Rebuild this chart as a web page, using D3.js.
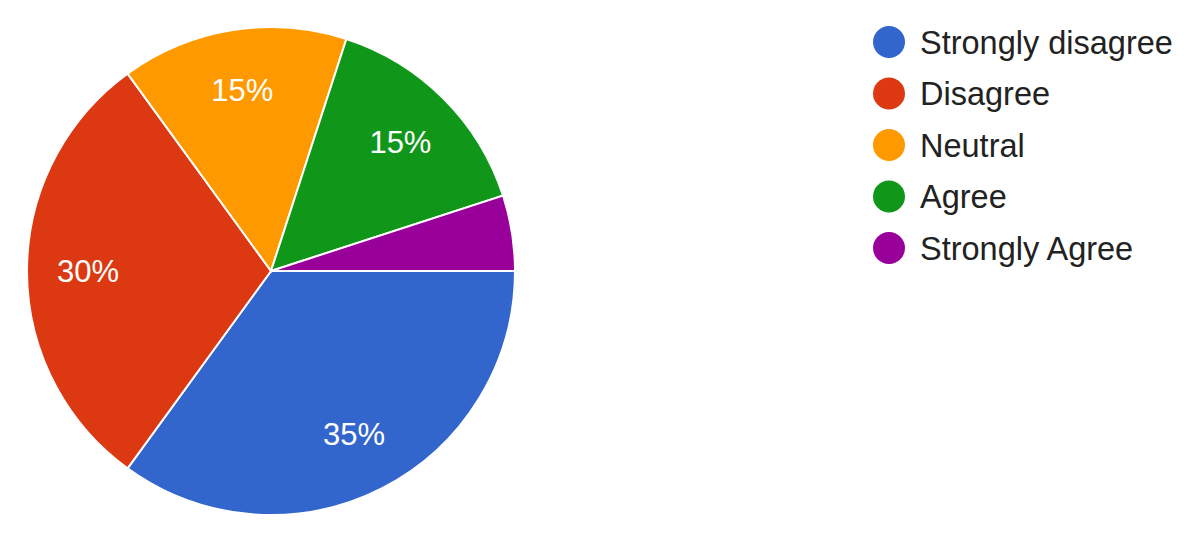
<!DOCTYPE html>
<html><head><meta charset="utf-8">
<script src="https://cdn.jsdelivr.net/npm/d3@7"></script>
<style>html,body{margin:0;padding:0;background:#fff;}</style>
</head><body>
<svg id="chart" width="1200" height="542"></svg>
<script>
const categories = ["Strongly disagree", "Disagree", "Neutral", "Agree", "Strongly Agree"];
const values = [35, 30, 15, 15, 5];
const colors = ["#3366cc", "#dc3912", "#ff9900", "#109618", "#990099"];

const FONT = "'Liberation Sans', Arial, sans-serif";
const svg = d3.select("#chart");
const cx = 271, cy = 271, r = 244;
const data = categories.map((c, i) => ({cat: c, value: values[i], color: colors[i]}));
const pie = d3.pie().value(d => d.value).sort(null)
  .startAngle(Math.PI / 2).endAngle(Math.PI / 2 + 2 * Math.PI);
const arcs = pie(data);
const arc = d3.arc().innerRadius(0).outerRadius(r);
const labelArc = d3.arc().innerRadius(r * 0.75).outerRadius(r * 0.75);
const total = d3.sum(values);

const g = svg.append("g").attr("transform", `translate(${cx},${cy})`);
g.selectAll("path").data(arcs).join("path")
  .attr("d", arc).attr("fill", d => d.data.color)
  .attr("stroke", "#fff").attr("stroke-width", 2);

g.selectAll("text").data(arcs.filter(d => d.data.value / total >= 0.1)).join("text")
  .attr("transform", d => `translate(${labelArc.centroid(d)})`)
  .attr("text-anchor", "middle").attr("dy", "0.36em")
  .attr("fill", "#fff").attr("font-family", FONT)
  .attr("font-size", 31)
  .text(d => Math.round(d.data.value / total * 100) + "%");

const legend = svg.append("g");
const ly = d3.scaleLinear().domain([0, categories.length - 1]).range([42, 248]);
const items = legend.selectAll("g").data(data).join("g")
  .attr("transform", (d, i) => `translate(889,${ly(i)})`);
items.append("circle").attr("r", 16).attr("fill", d => d.color);
items.append("text").attr("x", 31).attr("dy", "0.36em")
  .attr("fill", "#222").attr("font-family", FONT)
  .attr("font-size", 32.5).text(d => d.cat);
</script>
</body></html>
